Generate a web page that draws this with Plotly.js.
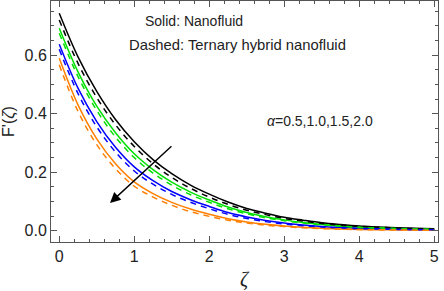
<!DOCTYPE html>
<html>
<head>
<meta charset="utf-8">
<script src="https://cdn.plot.ly/plotly-3.0.1.min.js"></script>
<style>html,body{margin:0;padding:0;background:#fff;}#chart{width:444px;height:291px;}</style>
</head>
<body>
<div id="chart"></div>
<script>
// zeta grid (step 0.25)
const zeta = [0, 0.25, 0.5, 0.75, 1, 1.25, 1.5, 1.75, 2, 2.25, 2.5, 2.75, 3, 3.25, 3.5, 3.75, 4, 4.25, 4.5, 4.75, 5];

// Solid: Nanofluid (alpha = 0.5, 1.0, 1.5, 2.0)
const nfA05 = [0.743, 0.594, 0.476, 0.380, 0.304, 0.243, 0.195, 0.156, 0.125, 0.098, 0.076, 0.060, 0.046, 0.036, 0.027, 0.021, 0.016, 0.013, 0.010, 0.008, 0.007];
const nfA10 = [0.692, 0.543, 0.426, 0.335, 0.263, 0.209, 0.166, 0.132, 0.105, 0.081, 0.062, 0.048, 0.037, 0.028, 0.021, 0.016, 0.012, 0.0097, 0.0078, 0.0062, 0.005];
const nfA15 = [0.637, 0.487, 0.373, 0.285, 0.218, 0.171, 0.134, 0.106, 0.083, 0.062, 0.047, 0.035, 0.026, 0.0195, 0.0145, 0.011, 0.008, 0.0065, 0.0052, 0.0042, 0.0034];
const nfA20 = [0.589, 0.430, 0.314, 0.229, 0.167, 0.127, 0.097, 0.074, 0.056, 0.041, 0.030, 0.022, 0.016, 0.0115, 0.0083, 0.006, 0.0043, 0.0034, 0.0028, 0.0022, 0.0018];

// Dashed: Ternary hybrid nanofluid
const thA05 = [0.720, 0.572, 0.455, 0.362, 0.288, 0.229, 0.182, 0.145, 0.115, 0.090, 0.070, 0.055, 0.042, 0.033, 0.025, 0.019, 0.015, 0.012, 0.009, 0.007, 0.006];
const thA10 = [0.675, 0.527, 0.411, 0.320, 0.250, 0.197, 0.156, 0.123, 0.097, 0.075, 0.058, 0.044, 0.034, 0.026, 0.020, 0.015, 0.011, 0.009, 0.007, 0.0058, 0.0047];
const thA15 = [0.620, 0.469, 0.355, 0.269, 0.204, 0.159, 0.124, 0.097, 0.075, 0.056, 0.042, 0.031, 0.023, 0.017, 0.0128, 0.0095, 0.007, 0.0056, 0.0045, 0.0036, 0.003];
const thA20 = [0.567, 0.408, 0.294, 0.212, 0.152, 0.115, 0.087, 0.065, 0.049, 0.036, 0.026, 0.019, 0.014, 0.010, 0.0072, 0.0052, 0.0037, 0.003, 0.0024, 0.0019, 0.0015];

const colors = ['#000000', '#00e000', '#0000ff', '#ff7f00'];
const solidSets = [nfA05, nfA10, nfA15, nfA20];
const dashSets = [thA05, thA10, thA15, thA20];

const traces = [];
solidSets.forEach((ys, i) => traces.push({
  x: zeta, y: ys, mode: 'lines', type: 'scatter',
  line: {color: colors[i], width: 1.5, shape: 'spline', smoothing: 1},
  hoverinfo: 'skip', showlegend: false
}));
dashSets.forEach((ys, i) => traces.push({
  x: zeta, y: ys, mode: 'lines', type: 'scatter',
  line: {color: colors[i], width: 1.5, dash: '6px,5px', shape: 'spline', smoothing: 1},
  hoverinfo: 'skip', showlegend: false
}));

const axisCommon = {
  showline: true, linecolor: '#555', linewidth: 1, mirror: 'ticks',
  ticks: 'inside', ticklen: 6, tickwidth: 1, tickcolor: '#555',
  showgrid: false, zeroline: false,
  tickfont: {family: 'Liberation Sans, Arial, sans-serif', size: 16, color: '#222'}
};

const layout = {
  width: 444, height: 291,
  margin: {l: 51, r: 6, t: 1, b: 49},
  paper_bgcolor: '#fff', plot_bgcolor: '#fff',
  xaxis: Object.assign({}, axisCommon, {
    range: [-0.11, 5.05], tickvals: [0, 1, 2, 3, 4, 5], ticktext: ['0', '1', '2', '3', '4', '5'],
    minor: {ticks: 'inside', dtick: 0.2, tick0: 0, ticklen: 3, tickcolor: '#555', showgrid: false}
  }),
  yaxis: Object.assign({}, axisCommon, {
    range: [-0.0386, 0.785], tickvals: [0, 0.2, 0.4, 0.6], ticktext: ['0.0', '0.2', '0.4', '0.6'],
    minor: {ticks: 'inside', dtick: 0.05, tick0: 0, ticklen: 3, tickcolor: '#555', showgrid: false},
    title: {text: "F'(<i>ζ</i>)", font: {family: 'Liberation Sans, Arial, sans-serif', size: 16, color: '#222'}, standoff: 5}
  }),
  annotations: [
    {xref: 'paper', yref: 'paper', x: (245 - 51) / 387, y: -(279 - 242) / 241, xanchor: 'center', yanchor: 'middle',
     text: '<i>ζ</i>', showarrow: false,
     font: {family: 'Liberation Serif, Times New Roman, serif', size: 20, color: '#222'}},
    {xref: 'paper', yref: 'paper', x: (143 - 51) / 387, y: 1 - (21 - 1) / 241, xanchor: 'left', yanchor: 'middle',
     text: 'Solid: Nanofluid', showarrow: false,
     font: {family: 'Liberation Sans, Arial, sans-serif', size: 14, color: '#222'}},
    {xref: 'paper', yref: 'paper', x: (127 - 51) / 387, y: 1 - (45 - 1) / 241, xanchor: 'left', yanchor: 'middle',
     text: 'Dashed: Ternary hybrid nanofluid', showarrow: false,
     font: {family: 'Liberation Sans, Arial, sans-serif', size: 14.8, color: '#222'}},
    {xref: 'paper', yref: 'paper', x: (265 - 51) / 387, y: 1 - (121 - 1) / 241, xanchor: 'left', yanchor: 'middle',
     text: '<i>α</i>=0.5,1.0,1.5,2.0', showarrow: false,
     font: {family: 'Liberation Sans, Arial, sans-serif', size: 14, color: '#222'}},
    {xref: 'x', yref: 'y', axref: 'x', ayref: 'y', x: 0.677, y: 0.0947, ax: 1.516, ay: 0.293,
     text: '', showarrow: true, arrowhead: 2, arrowsize: 1.5, arrowwidth: 1.4, arrowcolor: '#000'}
  ]
};

Plotly.newPlot('chart', traces, layout, {displayModeBar: false, staticPlot: true});
</script>
</body>
</html>
